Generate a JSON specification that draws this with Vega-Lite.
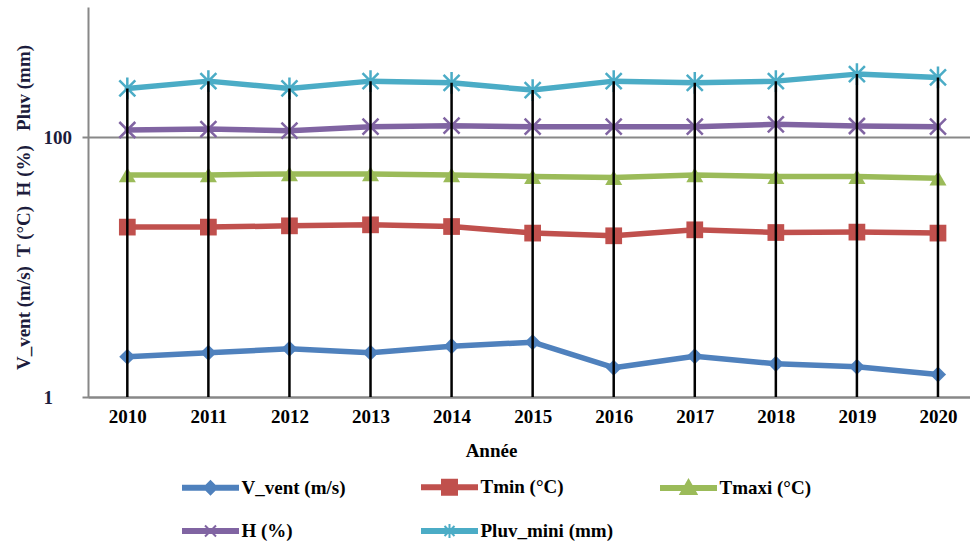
{
  "$schema": "https://vega.github.io/schema/vega-lite/v6.json",
  "width": 882,
  "height": 390,
  "autosize": {"type": "none"},
  "padding": {"left": 88, "top": 7, "right": 0, "bottom": 144},
  "background": "white",
  "config": {"view": {"stroke": null}, "font": "Liberation Serif"},
  "data": {
    "values": [
      {"year": 2010, "series": "V_vent (m/s)", "value": 2.04},
      {"year": 2011, "series": "V_vent (m/s)", "value": 2.19},
      {"year": 2012, "series": "V_vent (m/s)", "value": 2.35},
      {"year": 2013, "series": "V_vent (m/s)", "value": 2.19},
      {"year": 2014, "series": "V_vent (m/s)", "value": 2.46},
      {"year": 2015, "series": "V_vent (m/s)", "value": 2.64},
      {"year": 2016, "series": "V_vent (m/s)", "value": 1.68},
      {"year": 2017, "series": "V_vent (m/s)", "value": 2.06},
      {"year": 2018, "series": "V_vent (m/s)", "value": 1.8},
      {"year": 2019, "series": "V_vent (m/s)", "value": 1.71},
      {"year": 2020, "series": "V_vent (m/s)", "value": 1.49},
      {"year": 2010, "series": "Tmin (°C)", "value": 20.27},
      {"year": 2011, "series": "Tmin (°C)", "value": 20.27},
      {"year": 2012, "series": "Tmin (°C)", "value": 20.73},
      {"year": 2013, "series": "Tmin (°C)", "value": 21.1},
      {"year": 2014, "series": "Tmin (°C)", "value": 20.48},
      {"year": 2015, "series": "Tmin (°C)", "value": 18.23},
      {"year": 2016, "series": "Tmin (°C)", "value": 17.38},
      {"year": 2017, "series": "Tmin (°C)", "value": 19.32},
      {"year": 2018, "series": "Tmin (°C)", "value": 18.42},
      {"year": 2019, "series": "Tmin (°C)", "value": 18.55},
      {"year": 2020, "series": "Tmin (°C)", "value": 18.23},
      {"year": 2010, "series": "Tmaxi (°C)", "value": 51.1},
      {"year": 2011, "series": "Tmaxi (°C)", "value": 51.1},
      {"year": 2012, "series": "Tmaxi (°C)", "value": 52.0},
      {"year": 2013, "series": "Tmaxi (°C)", "value": 52.0},
      {"year": 2014, "series": "Tmaxi (°C)", "value": 51.1},
      {"year": 2015, "series": "Tmaxi (°C)", "value": 49.6},
      {"year": 2016, "series": "Tmaxi (°C)", "value": 48.7},
      {"year": 2017, "series": "Tmaxi (°C)", "value": 51.1},
      {"year": 2018, "series": "Tmaxi (°C)", "value": 49.6},
      {"year": 2019, "series": "Tmaxi (°C)", "value": 49.6},
      {"year": 2020, "series": "Tmaxi (°C)", "value": 48.2},
      {"year": 2010, "series": "H (%)", "value": 113.2},
      {"year": 2011, "series": "H (%)", "value": 115.2},
      {"year": 2012, "series": "H (%)", "value": 111.8},
      {"year": 2013, "series": "H (%)", "value": 120.0},
      {"year": 2014, "series": "H (%)", "value": 122.1},
      {"year": 2015, "series": "H (%)", "value": 120.0},
      {"year": 2016, "series": "H (%)", "value": 120.0},
      {"year": 2017, "series": "H (%)", "value": 120.0},
      {"year": 2018, "series": "H (%)", "value": 125.2},
      {"year": 2019, "series": "H (%)", "value": 121.5},
      {"year": 2020, "series": "H (%)", "value": 120.0},
      {"year": 2010, "series": "Pluv_mini (mm)", "value": 236.5},
      {"year": 2011, "series": "Pluv_mini (mm)", "value": 269.0},
      {"year": 2012, "series": "Pluv_mini (mm)", "value": 236.5},
      {"year": 2013, "series": "Pluv_mini (mm)", "value": 269.0},
      {"year": 2014, "series": "Pluv_mini (mm)", "value": 261.0},
      {"year": 2015, "series": "Pluv_mini (mm)", "value": 229.5},
      {"year": 2016, "series": "Pluv_mini (mm)", "value": 269.0},
      {"year": 2017, "series": "Pluv_mini (mm)", "value": 261.0},
      {"year": 2018, "series": "Pluv_mini (mm)", "value": 269.0},
      {"year": 2019, "series": "Pluv_mini (mm)", "value": 304.6},
      {"year": 2020, "series": "Pluv_mini (mm)", "value": 287.3}
    ]
  },
  "encoding": {
    "x": {
      "field": "year",
      "type": "quantitative",
      "scale": {"domain": [2009.515, 2020.395], "nice": false, "zero": false},
      "axis": {
        "values": [2010, 2011, 2012, 2013, 2014, 2015, 2016, 2017, 2018, 2019, 2020],
        "format": "d",
        "grid": false,
        "ticks": false,
        "domainColor": "#888888",
        "domainWidth": 2,
        "labelFont": "Liberation Serif",
        "labelFontSize": 19,
        "labelFontWeight": "bold",
        "labelColor": "#000000",
        "labelPadding": 10,
        "labelFlush": false,
        "labelOverlap": false,
        "title": "Année",
        "titleFont": "Liberation Serif",
        "titleFontSize": 19,
        "titleFontWeight": "bold",
        "titleColor": "#000000",
        "titleX": 403,
        "titleY": 53,
        "titleAlign": "center",
        "titleBaseline": "middle"
      }
    },
    "y": {
      "field": "value",
      "type": "quantitative",
      "scale": {"type": "log", "domain": [1, 1000], "nice": false},
      "axis": {
        "values": [1, 100],
        "format": "d",
        "grid": true,
        "gridColor": "#888888",
        "gridWidth": 2,
        "domainColor": "#888888",
        "domainWidth": 2,
        "tickColor": "#888888",
        "tickWidth": 2,
        "tickSize": 6,
        "labelFont": "Liberation Serif",
        "labelFontSize": 19,
        "labelFontWeight": "bold",
        "labelColor": "#1c1c3c",
        "labelAlign": "left",
        "labelBaseline": "middle",
        "labelPadding": 39,
        "labelFlush": false,
        "title": "V_vent (m/s)\u00a0 T (°C)\u00a0 H (%)\u00a0\u00a0 Pluv (mm)",
        "titleFont": "Liberation Serif",
        "titleFontSize": 19,
        "titleFontWeight": "bold",
        "titleColor": "#1c1c3c",
        "titleX": -65,
        "titleY": 200,
        "titleAngle": 270,
        "titleAlign": "center",
        "titleBaseline": "middle"
      }
    },
    "color": {
      "field": "series",
      "type": "nominal",
      "scale": {
        "range": ["#8064A2", "#4BACC6", "#9BBB59", "#C0504D", "#4F81BD"]
      },
      "legend": null
    }
  },
  "layer": [
    {
      "mark": {"type": "line", "strokeWidth": 5.5, "strokeJoin": "round", "strokeCap": "round"}
    },
    {
      "transform": [{"filter": "datum.series == 'V_vent (m/s)'"}],
      "mark": {"type": "point", "shape": "diamond", "filled": true, "opacity": 1, "size": 260}
    },
    {
      "transform": [{"filter": "datum.series == 'Tmin (°C)'"}],
      "mark": {"type": "point", "shape": "square", "filled": true, "opacity": 1, "size": 280}
    },
    {
      "transform": [{"filter": "datum.series == 'Tmaxi (°C)'"}],
      "mark": {"type": "point", "shape": "triangle-up", "filled": true, "opacity": 1, "size": 290}
    },
    {
      "transform": [{"filter": "datum.series == 'H (%)'"}],
      "mark": {"type": "point", "shape": "M-1,-1L1,1M-1,1L1,-1", "filled": false, "opacity": 1, "size": 256, "strokeWidth": 2.5}
    },
    {
      "transform": [{"filter": "datum.series == 'Pluv_mini (mm)'"}],
      "mark": {"type": "point", "shape": "M-1,-1L1,1M-1,1L1,-1M0,-1.35L0,1.35", "filled": false, "opacity": 1, "size": 256, "strokeWidth": 2.5}
    },
    {
      "transform": [{"filter": "datum.series == 'Pluv_mini (mm)'"}],
      "mark": {"type": "rule", "strokeWidth": 2.5},
      "encoding": {
        "y2": {"datum": 1},
        "color": {"value": "#000000"}
      }
    },
    {
      "transform": [{"filter": "datum.year == 2010"}],
      "mark": {"type": "point", "filled": true, "opacity": 0, "strokeWidth": 2},
      "encoding": {
        "color": {"value": "#000000"},
        "fill": {
          "field": "series",
          "type": "nominal",
          "scale": {
            "domain": ["V_vent (m/s)", "Tmin (°C)", "Tmaxi (°C)", "H (%)", "Pluv_mini (mm)"],
            "range": ["#4F81BD", "#C0504D", "#9BBB59", "#8064A2", "#4BACC6"]
          },
          "legend": {
            "title": null,
            "orient": "none",
            "legendX": 94,
            "legendY": 469,
            "direction": "horizontal",
            "columns": 3,
            "gridAlign": "all",
            "columnPadding": 44,
            "rowPadding": 21,
            "symbolSize": 400,
            "symbolOffset": 17.5,
            "symbolStrokeWidth": 2,
            "symbolOpacity": 1,
            "labelOffset": 20,
            "labelFont": "Liberation Serif",
            "labelFontSize": 19,
            "labelFontWeight": "bold",
            "labelColor": "#000000",
            "labelLimit": 400
          }
        },
        "stroke": {
          "field": "series",
          "type": "nominal",
          "scale": {
            "domain": ["V_vent (m/s)", "Tmin (°C)", "Tmaxi (°C)", "H (%)", "Pluv_mini (mm)"],
            "range": ["#4F81BD", "#C0504D", "#9BBB59", "#8064A2", "#4BACC6"]
          },
          "legend": {
            "title": null,
            "orient": "none",
            "legendX": 94,
            "legendY": 469,
            "direction": "horizontal",
            "columns": 3,
            "gridAlign": "all",
            "columnPadding": 44,
            "rowPadding": 21,
            "symbolSize": 400,
            "symbolOffset": 17.5,
            "symbolStrokeWidth": 2,
            "symbolOpacity": 1,
            "labelOffset": 20,
            "labelFont": "Liberation Serif",
            "labelFontSize": 19,
            "labelFontWeight": "bold",
            "labelColor": "#000000",
            "labelLimit": 400
          }
        },
        "shape": {
          "field": "series",
          "type": "nominal",
          "scale": {
            "domain": ["V_vent (m/s)", "Tmin (°C)", "Tmaxi (°C)", "H (%)", "Pluv_mini (mm)"],
            "range": [
              "M-2.75,-0.2L2.75,-0.2L2.75,0.2L-2.75,0.2Z M0,-0.65L0.65,0L0,0.65L-0.65,0Z",
              "M-2.75,-0.2L2.75,-0.2L2.75,0.2L-2.75,0.2Z M-0.75,-0.75L0.75,-0.75L0.75,0.75L-0.75,0.75Z",
              "M-2.75,-0.2L2.75,-0.2L2.75,0.2L-2.75,0.2Z M0,-0.8L0.8,0.6L-0.8,0.6Z",
              "M-2.75,-0.2L2.75,-0.2L2.75,0.2L-2.75,0.2Z M-0.55,-0.55L0.55,0.55M-0.55,0.55L0.55,-0.55",
              "M-2.75,-0.2L2.75,-0.2L2.75,0.2L-2.75,0.2Z M-0.5,-0.5L0.5,0.5M-0.5,0.5L0.5,-0.5M0,-0.7L0,0.7"
            ]
          },
          "legend": {
            "title": null,
            "orient": "none",
            "legendX": 94,
            "legendY": 469,
            "direction": "horizontal",
            "columns": 3,
            "gridAlign": "all",
            "columnPadding": 44,
            "rowPadding": 21,
            "symbolSize": 400,
            "symbolOffset": 17.5,
            "symbolStrokeWidth": 2,
            "symbolOpacity": 1,
            "labelOffset": 20,
            "labelFont": "Liberation Serif",
            "labelFontSize": 19,
            "labelFontWeight": "bold",
            "labelColor": "#000000",
            "labelLimit": 400
          }
        }
      }
    }
  ]
}
